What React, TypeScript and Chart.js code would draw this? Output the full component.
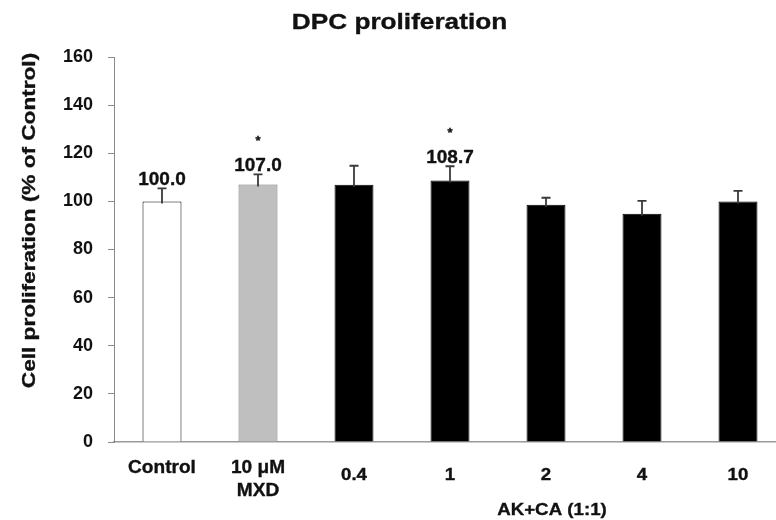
import React, { useEffect, useRef } from "react";
import { Chart, registerables } from "chart.js";

Chart.register(...registerables);

// ---- data ----
const categories: string[][] = [["Control"], ["10 μM", "MXD"], ["0.4"], ["1"], ["2"], ["4"], ["10"]];
const values: number[] = [100.0, 107.0, 106.9, 108.7, 98.6, 94.9, 99.9];
const errors: number[] = [5.4, 4.2, 7.9, 5.9, 2.9, 5.3, 4.5];
const valueLabels: string[] = ["100.0", "107.0", "", "108.7", "", "", ""];
const significance: string[] = ["", "*", "", "*", "", "", ""];
const groupLabel = "AK+CA (1:1)";
const groupIndices: number[] = [2, 3, 4, 5, 6];
const yTickValues: number[] = [0, 20, 40, 60, 80, 100, 120, 140, 160];
const titleText = "DPC proliferation";
const yTitle = "Cell proliferation (% of Control)";

// ---- styles ----
const barFill = ["#ffffff", "#bfbfbf", "#000000", "#000000", "#000000", "#000000", "#000000"];
const barBorder = ["#000000", "#6f6f6f", "#000000", "#000000", "#000000", "#000000", "#000000"];
const FONT = '"Liberation Sans", Arial, sans-serif';
const TEXT = "#111111";

function stretchText(
  ctx: CanvasRenderingContext2D,
  text: string,
  x: number,
  y: number,
  size: number,
  sx: number,
  align: CanvasTextAlign = "center",
  rotate = 0
) {
  ctx.save();
  ctx.translate(x, y);
  if (rotate) ctx.rotate(rotate);
  ctx.scale(sx, 1);
  ctx.font = `bold ${size}px ${FONT}`;
  ctx.textAlign = align;
  ctx.textBaseline = "alphabetic";
  ctx.fillStyle = TEXT;
  ctx.fillText(text, 0, 0);
  ctx.strokeStyle = TEXT;
  ctx.lineWidth = 0.35;
  ctx.strokeText(text, 0, 0);
  ctx.restore();
}

const overlay = {
  id: "overlay",
  afterDatasetsDraw(chart: any) {
    const ctx: CanvasRenderingContext2D = chart.ctx;
    const xs = chart.scales.x;
    const ys = chart.scales.y;
    const bottom = chart.chartArea.bottom;

    // error bars
    ctx.save();
    ctx.strokeStyle = "#3a3a3a";
    ctx.lineWidth = 1.8;
    values.forEach((v, i) => {
      const cx = xs.getPixelForValue(i);
      const y0 = ys.getPixelForValue(v);
      const y1 = ys.getPixelForValue(v + errors[i]);
      ctx.beginPath();
      ctx.moveTo(cx, y0 + 2);
      ctx.lineTo(cx, y1);
      ctx.moveTo(cx - 4.5, y1);
      ctx.lineTo(cx + 4.5, y1);
      ctx.stroke();
    });
    ctx.restore();

    // value labels and significance marks
    values.forEach((v, i) => {
      const cx = xs.getPixelForValue(i);
      const errTop = ys.getPixelForValue(v + errors[i]);
      if (valueLabels[i]) stretchText(ctx, valueLabels[i], cx, errTop - 3, 19, 1.0);
      if (significance[i]) stretchText(ctx, significance[i], cx, errTop - 29.5, 13, 1.0);
    });

    // category labels
    categories.forEach((lines, i) => {
      const cx = xs.getPixelForValue(i);
      if (groupIndices.includes(i)) {
        stretchText(ctx, lines[0], cx, bottom + 38, 17, 1.1);
      } else {
        lines.forEach((ln, k) => {
          stretchText(ctx, ln, cx, bottom + 31 + k * 22.5, 18, 1.06);
        });
      }
    });

    // group label
    const mid = groupIndices[Math.floor(groupIndices.length / 2)];
    stretchText(ctx, groupLabel, xs.getPixelForValue(mid) + 6, bottom + 73, 17, 1.1);

    // title
    stretchText(ctx, titleText, 399.5, 29.3, 22, 1.19);

    // y-axis title
    const ymid = (chart.chartArea.top + bottom) / 2 - 29;
    stretchText(ctx, yTitle, 34.5, ymid, 19, 1.19, "center", -Math.PI / 2);
  },
};

export default function App() {
  const ref = useRef<HTMLCanvasElement | null>(null);

  useEffect(() => {
    if (!ref.current) return;
    const chart = new Chart(ref.current, {
      type: "bar",
      data: {
        labels: categories.map((c) => c.join(" ")),
        datasets: [
          {
            data: values,
            backgroundColor: barFill,
            borderColor: barBorder,
            borderWidth: 1,
            barPercentage: 0.406,
            categoryPercentage: 1,
          },
        ],
      },
      options: {
        responsive: false,
        animation: false,
        events: [],
        layout: { padding: { left: 0, top: 57, right: 14, bottom: 78 } },
        plugins: {
          legend: { display: false },
          title: { display: false },
          tooltip: { enabled: false },
        },
        scales: {
          x: {
            grid: { display: false },
            border: { display: true, color: "#9a9a9a", width: 1.5 },
            ticks: { display: false },
            afterFit: (s: any) => {
              s.height = 0;
            },
          },
          y: {
            min: 0,
            max: 160,
            afterBuildTicks: (s: any) => {
              s.ticks = yTickValues.map((v) => ({ value: v }));
            },
            grid: {
              display: true,
              drawOnChartArea: false,
              drawTicks: true,
              tickLength: 6,
              color: "#8a8a8a",
            },
            border: { display: true, color: "#8a8a8a", width: 1 },
            ticks: {
              padding: 15,
              color: TEXT,
              font: { family: FONT, size: 18, weight: "bold" },
            },
            afterFit: (s: any) => {
              s.width = 114;
            },
          },
        },
      },
      plugins: [overlay],
    });
    return () => chart.destroy();
  }, []);

  return (
    <div
      style={{
        position: "fixed",
        left: 0,
        top: 0,
        width: 776,
        height: 520,
        overflow: "hidden",
        background: "#ffffff",
      }}
    >
      <canvas ref={ref} width={800} height={520} style={{ width: 800, height: 520, display: "block" }} />
    </div>
  );
}
